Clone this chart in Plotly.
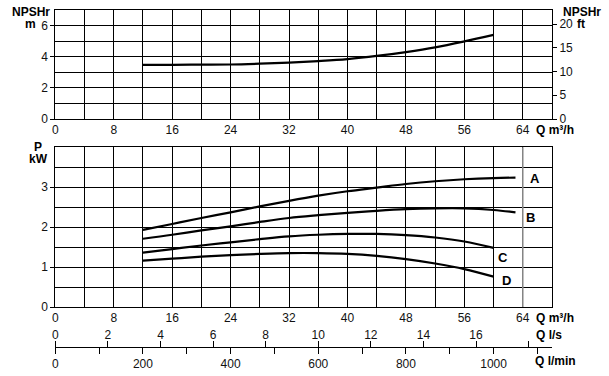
import plotly.graph_objects as go

# ---- data ----
NPSH_Q = [12, 16, 20, 24, 28, 32, 36, 40, 44, 48, 52, 56, 60]
NPSH_M = [3.48, 3.48, 3.49, 3.50, 3.55, 3.62, 3.72, 3.85, 4.05, 4.30, 4.60, 4.98, 5.40]

P_Q_AB = [12, 16, 20, 24, 28, 32, 36, 40, 44, 48, 52, 56, 60, 63]
P_A = [1.93, 2.08, 2.23, 2.37, 2.52, 2.66, 2.79, 2.90, 2.99, 3.08, 3.15, 3.20, 3.23, 3.24]
P_B = [1.71, 1.81, 1.92, 2.02, 2.13, 2.23, 2.30, 2.36, 2.41, 2.45, 2.47, 2.47, 2.43, 2.37]
P_Q_CD = [12, 16, 20, 24, 28, 32, 36, 40, 44, 48, 52, 56, 60]
P_C = [1.36, 1.45, 1.54, 1.62, 1.70, 1.77, 1.81, 1.83, 1.83, 1.80, 1.74, 1.64, 1.48]
P_D = [1.16, 1.21, 1.26, 1.30, 1.33, 1.35, 1.35, 1.33, 1.28, 1.20, 1.09, 0.95, 0.76]
CURVE_NAMES = ["A", "B", "C", "D"]

Q_MAX = 68
Q_GREY_LINE = 64
M_TO_FT = 3.28084
FT_TICKS = [0, 5, 10, 15, 20]
LS_TICKS = list(range(0, 20, 2))
LMIN_TICKS = list(range(0, 1200, 100))

# ---- layout geometry ----
W, H = 609, 376
XL, XR = 55.3 / W, 552 / W
TOP_DOM = [(H - 119) / H, (H - 10) / H]
BOT_DOM = [(H - 307) / H, (H - 147.3) / H]
EXTRA_POS = (H - 346.7) / H

FONT = "Arial, Liberation Sans, sans-serif"
TICKFONT = dict(family=FONT, size=12, color="#111")

fig = go.Figure()

fig.add_trace(go.Scatter(x=NPSH_Q, y=NPSH_M, mode="lines", line=dict(color="black", width=2.2, shape="spline"),
                         xaxis="x", yaxis="y", hoverinfo="skip"))
# ft companion (invisible) so right axis is registered
fig.add_trace(go.Scatter(x=NPSH_Q, y=[v * M_TO_FT for v in NPSH_M], mode="lines", line=dict(width=0),
                         opacity=0, xaxis="x", yaxis="y2", hoverinfo="skip"))

curves = [(P_Q_AB, P_A), (P_Q_AB, P_B), (P_Q_CD, P_C), (P_Q_CD, P_D)]
for (qs, ps) in curves:
    fig.add_trace(go.Scatter(x=qs, y=ps, mode="lines", line=dict(color="black", width=2.2, shape="spline"),
                             xaxis="x2", yaxis="y3", hoverinfo="skip"))
# invisible companions for extra flow axes
fig.add_trace(go.Scatter(x=[q / 3.6 for q in P_Q_AB], y=P_A, mode="lines", line=dict(width=0), opacity=0,
                         xaxis="x3", yaxis="y3", hoverinfo="skip"))
fig.add_trace(go.Scatter(x=[q * 1000 / 60 for q in P_Q_AB], y=P_A, mode="lines", line=dict(width=0), opacity=0,
                         xaxis="x4", yaxis="y3", hoverinfo="skip"))

label_shifts = [(20, -1), (15, -5), (9, -10), (13, -4)]
for name, (qs, ps), (dx, dy) in zip(CURVE_NAMES, curves, label_shifts):
    fig.add_annotation(x=qs[-1], y=ps[-1], xref="x2", yref="y3", text="<b>" + name + "</b>", showarrow=False,
                       xshift=dx, yshift=dy, font=dict(family=FONT, size=13, color="black"))

grid = dict(showgrid=True, gridcolor="black", gridwidth=1)
base_x = dict(range=[0, Q_MAX], dtick=8, tick0=0, showline=True, linecolor="black", linewidth=1, mirror=True,
              ticks="", zeroline=False, tickfont=TICKFONT, domain=[XL, XR], automargin=False,
              minor=dict(dtick=4, tick0=0, showgrid=True, gridcolor="black", gridwidth=1), **grid)

fig.update_layout(
    width=W, height=H, margin=dict(l=0, r=0, t=0, b=0, autoexpand=False),
    paper_bgcolor="white", plot_bgcolor="white", showlegend=False,
    xaxis=dict(anchor="y", **base_x),
    yaxis=dict(domain=TOP_DOM, anchor="x", range=[0, 7], dtick=2, tick0=0, showline=True, linecolor="black",
               linewidth=1, mirror=True, ticks="outside", ticklen=4, tickcolor="black", zeroline=False,
               tickfont=TICKFONT, automargin=False,
               minor=dict(dtick=1, tick0=0, showgrid=True, gridcolor="black", gridwidth=1),
               **grid),
    yaxis2=dict(overlaying="y", side="right", anchor="x", range=[0, 7 * M_TO_FT], tickvals=FT_TICKS,
                showgrid=False, zeroline=False, showline=True, linecolor="black", ticks="outside", ticklen=4,
                tickcolor="black", tickfont=TICKFONT, automargin=False),
    xaxis2=dict(anchor="y3", **base_x),
    yaxis3=dict(domain=BOT_DOM, anchor="x2", range=[0, 4], tickvals=[0, 1, 2, 3], showline=True,
                linecolor="black", linewidth=1, mirror=True, ticks="outside", ticklen=4, tickcolor="black",
                zeroline=False, tickfont=TICKFONT, automargin=False,
                minor=dict(tickmode="linear", dtick=0.5, tick0=0, showgrid=True, gridcolor="black", gridwidth=1),
                **grid),
    xaxis3=dict(overlaying="x2", anchor="free", position=EXTRA_POS, side="top", range=[0, Q_MAX / 3.6],
                tickvals=LS_TICKS, ticktext=[str(v) if v <= 16 else "" for v in LS_TICKS],
                ticks="outside", ticklen=6, tickcolor="black", showline=True, linecolor="black",
                showgrid=False, zeroline=False, tickfont=TICKFONT, automargin=False, ticklabelstandoff=-3),
    xaxis4=dict(overlaying="x2", anchor="free", position=EXTRA_POS, side="bottom", range=[0, Q_MAX * 1000 / 60],
                tickvals=LMIN_TICKS, ticktext=[str(v) if v % 200 == 0 else "" for v in LMIN_TICKS],
                ticks="outside", ticklen=6, tickcolor="black", showline=True, linecolor="black",
                showgrid=False, zeroline=False, tickfont=TICKFONT, automargin=False),
)

fig.add_shape(type="line", xref="x2", yref="y3 domain", x0=Q_GREY_LINE, x1=Q_GREY_LINE, y0=0, y1=1,
              line=dict(color="#888", width=1.5), layer="above")

bold = dict(family=FONT, size=12, color="black")
texts = [
    ("<b>NPSHr</b>", 31, 12.5), ("<b>m</b>", 30.7, 24.5),
    ("<b>NPSHr</b>", 582, 11.7), ("<b>ft</b>", 581, 23.5),
    ("<b>P</b>", 38, 146.5), ("<b>kW</b>", 38, 158.5),
    ("<b>Q m³/h</b>", 555, 130), ("<b>Q m³/h</b>", 555, 318.3),
    ("<b>Q l/s</b>", 548.5, 335), ("<b>Q l/min</b>", 555, 361),
]
for t, px, py in texts:
    fig.add_annotation(x=px / W, y=1 - py / H, xref="paper", yref="paper", text=t, showarrow=False,
                       xanchor="center", yanchor="middle", font=bold)

fig.write_html("out.html", config={"displayModeBar": False},
               post_script="document.body.style.margin='0';document.body.style.overflow='hidden';")
